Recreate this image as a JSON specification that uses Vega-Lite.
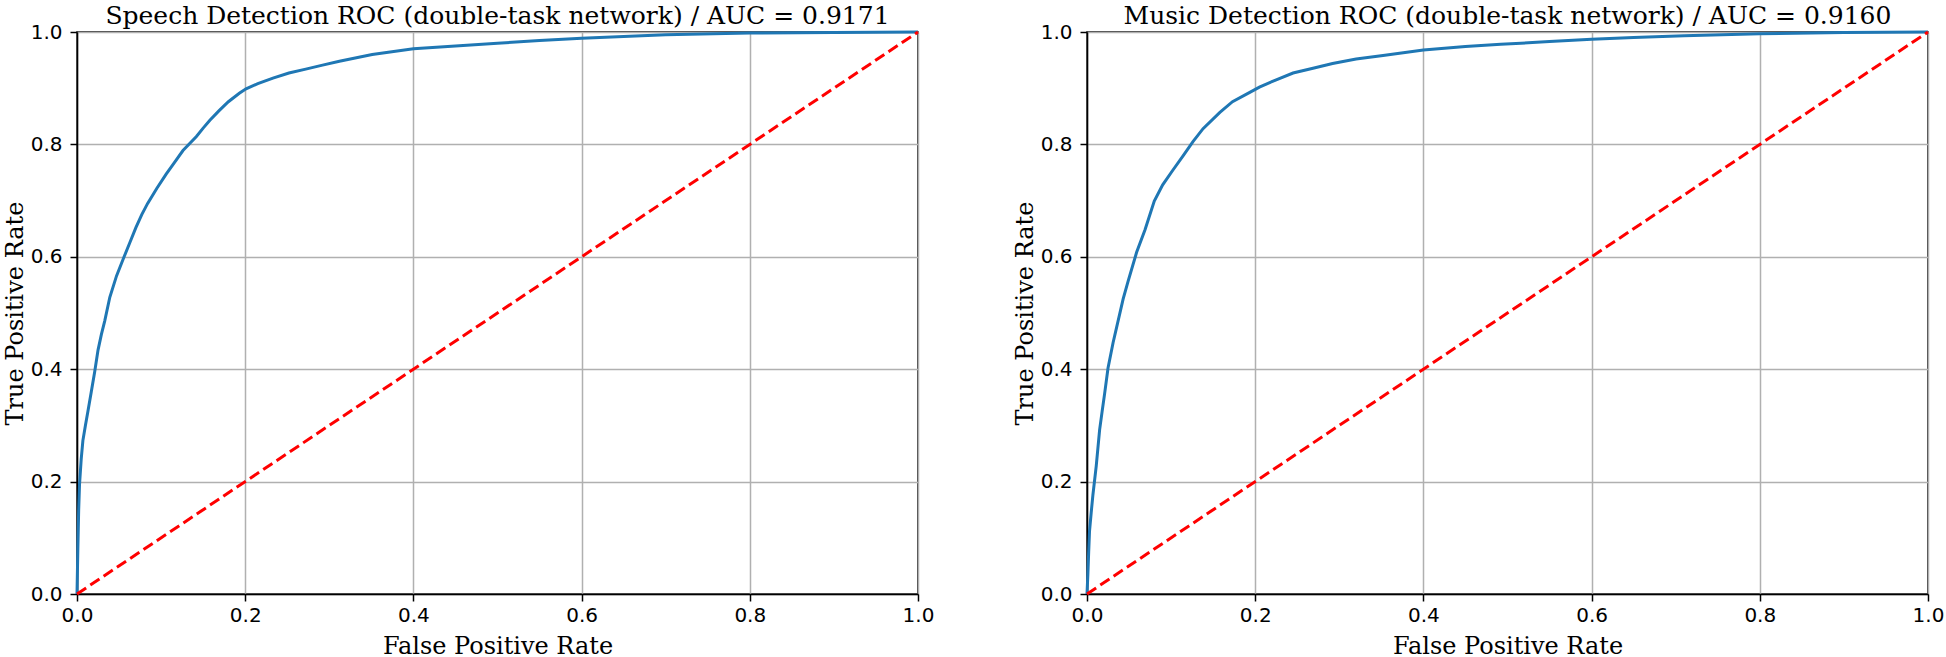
{
  "$schema": "https://vega.github.io/schema/vega-lite/v6.json",
  "background": "white",
  "padding": {"left": 2, "top": 3, "right": 5, "bottom": 0},
  "spacing": 169,
  "bounds": "flush",
  "datasets": {
    "speech": [
      {"fpr": 0, "tpr": 0}, {"fpr": 0.001, "tpr": 0.08}, {"fpr": 0.002, "tpr": 0.15}, {"fpr": 0.003, "tpr": 0.195},
      {"fpr": 0.005, "tpr": 0.24}, {"fpr": 0.007, "tpr": 0.273}, {"fpr": 0.010, "tpr": 0.30}, {"fpr": 0.013, "tpr": 0.325},
      {"fpr": 0.017, "tpr": 0.36}, {"fpr": 0.021, "tpr": 0.395}, {"fpr": 0.025, "tpr": 0.434}, {"fpr": 0.029, "tpr": 0.462},
      {"fpr": 0.033, "tpr": 0.486}, {"fpr": 0.039, "tpr": 0.528}, {"fpr": 0.047, "tpr": 0.566}, {"fpr": 0.056, "tpr": 0.600},
      {"fpr": 0.063, "tpr": 0.626}, {"fpr": 0.070, "tpr": 0.652}, {"fpr": 0.077, "tpr": 0.675}, {"fpr": 0.084, "tpr": 0.695},
      {"fpr": 0.095, "tpr": 0.722}, {"fpr": 0.106, "tpr": 0.747}, {"fpr": 0.116, "tpr": 0.768}, {"fpr": 0.126, "tpr": 0.789},
      {"fpr": 0.142, "tpr": 0.814}, {"fpr": 0.150, "tpr": 0.829}, {"fpr": 0.158, "tpr": 0.843}, {"fpr": 0.169, "tpr": 0.860},
      {"fpr": 0.180, "tpr": 0.876}, {"fpr": 0.193, "tpr": 0.891}, {"fpr": 0.201, "tpr": 0.899}, {"fpr": 0.215, "tpr": 0.908},
      {"fpr": 0.233, "tpr": 0.918}, {"fpr": 0.252, "tpr": 0.927}, {"fpr": 0.272, "tpr": 0.934}, {"fpr": 0.292, "tpr": 0.941},
      {"fpr": 0.312, "tpr": 0.948}, {"fpr": 0.351, "tpr": 0.960}, {"fpr": 0.400, "tpr": 0.970}, {"fpr": 0.450, "tpr": 0.975},
      {"fpr": 0.500, "tpr": 0.980}, {"fpr": 0.550, "tpr": 0.985}, {"fpr": 0.600, "tpr": 0.989}, {"fpr": 0.650, "tpr": 0.992},
      {"fpr": 0.700, "tpr": 0.995}, {"fpr": 0.800, "tpr": 0.998}, {"fpr": 0.900, "tpr": 0.999}, {"fpr": 1.0, "tpr": 1.0}
    ],
    "music": [
      {"fpr": 0, "tpr": 0}, {"fpr": 0.001, "tpr": 0.034}, {"fpr": 0.002, "tpr": 0.075}, {"fpr": 0.003, "tpr": 0.112},
      {"fpr": 0.005, "tpr": 0.145}, {"fpr": 0.007, "tpr": 0.176}, {"fpr": 0.011, "tpr": 0.228}, {"fpr": 0.015, "tpr": 0.292},
      {"fpr": 0.018, "tpr": 0.325}, {"fpr": 0.021, "tpr": 0.357}, {"fpr": 0.025, "tpr": 0.402}, {"fpr": 0.031, "tpr": 0.447},
      {"fpr": 0.035, "tpr": 0.473}, {"fpr": 0.043, "tpr": 0.525}, {"fpr": 0.049, "tpr": 0.557}, {"fpr": 0.059, "tpr": 0.608},
      {"fpr": 0.069, "tpr": 0.648}, {"fpr": 0.080, "tpr": 0.699}, {"fpr": 0.090, "tpr": 0.728}, {"fpr": 0.102, "tpr": 0.754},
      {"fpr": 0.114, "tpr": 0.779}, {"fpr": 0.126, "tpr": 0.805}, {"fpr": 0.138, "tpr": 0.828}, {"fpr": 0.158, "tpr": 0.857},
      {"fpr": 0.173, "tpr": 0.876}, {"fpr": 0.193, "tpr": 0.892}, {"fpr": 0.205, "tpr": 0.902}, {"fpr": 0.225, "tpr": 0.915},
      {"fpr": 0.245, "tpr": 0.927}, {"fpr": 0.270, "tpr": 0.936}, {"fpr": 0.292, "tpr": 0.944}, {"fpr": 0.320, "tpr": 0.952},
      {"fpr": 0.352, "tpr": 0.958}, {"fpr": 0.400, "tpr": 0.968}, {"fpr": 0.450, "tpr": 0.974}, {"fpr": 0.492, "tpr": 0.978},
      {"fpr": 0.550, "tpr": 0.983}, {"fpr": 0.600, "tpr": 0.987}, {"fpr": 0.650, "tpr": 0.990}, {"fpr": 0.710, "tpr": 0.9935},
      {"fpr": 0.800, "tpr": 0.997}, {"fpr": 0.900, "tpr": 0.999}, {"fpr": 1.0, "tpr": 1.0}
    ],
    "diag": [{"fpr": 0, "tpr": 0}, {"fpr": 1, "tpr": 1}]
  },
  "config": {
    "view": {"stroke": "black", "strokeWidth": 1.5},
    "axis": {
      "domainColor": "black", "domainWidth": 1.5, "tickColor": "black", "tickSize": 7, "tickWidth": 1.5,
      "labelFont": "DejaVu Sans", "labelFontSize": 20, "labelColor": "black",
      "labelFlush": false, "labelOverlap": false,
      "titleFont": "DejaVu Serif", "titleFontSize": 24, "titleFontWeight": "normal", "titleColor": "black",
      "gridColor": "#b0b0b0", "gridWidth": 1.5, "gridOpacity": 1
    },
    "axisX": {"labelPadding": 4, "titlePadding": 9},
    "axisY": {"labelPadding": 8, "titlePadding": 3},
    "title": {"font": "DejaVu Serif", "fontSize": 25, "fontWeight": "normal", "color": "black", "offset": -7}
  },
  "hconcat": [
    {
      "width": 841, "height": 562,
      "title": "Speech Detection ROC (double-task network) / AUC = 0.9171",
      "layer": [
        {
          "data": {"name": "speech"},
          "mark": {"type": "line", "color": "#1f77b4", "strokeWidth": 3},
          "encoding": {
            "x": {"field": "fpr", "type": "quantitative", "scale": {"domain": [0, 1], "nice": false}, "axis": {"title": "False Positive Rate", "values": [0, 0.2, 0.4, 0.6, 0.8, 1], "format": ".1f"}},
            "y": {"field": "tpr", "type": "quantitative", "scale": {"domain": [0, 1], "nice": false}, "axis": {"title": "True Positive Rate", "values": [0, 0.2, 0.4, 0.6, 0.8, 1], "format": ".1f"}}
          }
        },
        {
          "data": {"name": "diag"},
          "mark": {"type": "line", "color": "red", "strokeWidth": 3, "strokeDash": [11, 5]},
          "encoding": {
            "x": {"field": "fpr", "type": "quantitative"},
            "y": {"field": "tpr", "type": "quantitative"}
          }
        }
      ]
    },
    {
      "width": 841, "height": 562,
      "title": "Music Detection ROC (double-task network) / AUC = 0.9160",
      "layer": [
        {
          "data": {"name": "music"},
          "mark": {"type": "line", "color": "#1f77b4", "strokeWidth": 3},
          "encoding": {
            "x": {"field": "fpr", "type": "quantitative", "scale": {"domain": [0, 1], "nice": false}, "axis": {"title": "False Positive Rate", "values": [0, 0.2, 0.4, 0.6, 0.8, 1], "format": ".1f"}},
            "y": {"field": "tpr", "type": "quantitative", "scale": {"domain": [0, 1], "nice": false}, "axis": {"title": "True Positive Rate", "values": [0, 0.2, 0.4, 0.6, 0.8, 1], "format": ".1f"}}
          }
        },
        {
          "data": {"name": "diag"},
          "mark": {"type": "line", "color": "red", "strokeWidth": 3, "strokeDash": [11, 5]},
          "encoding": {
            "x": {"field": "fpr", "type": "quantitative"},
            "y": {"field": "tpr", "type": "quantitative"}
          }
        }
      ]
    }
  ]
}
